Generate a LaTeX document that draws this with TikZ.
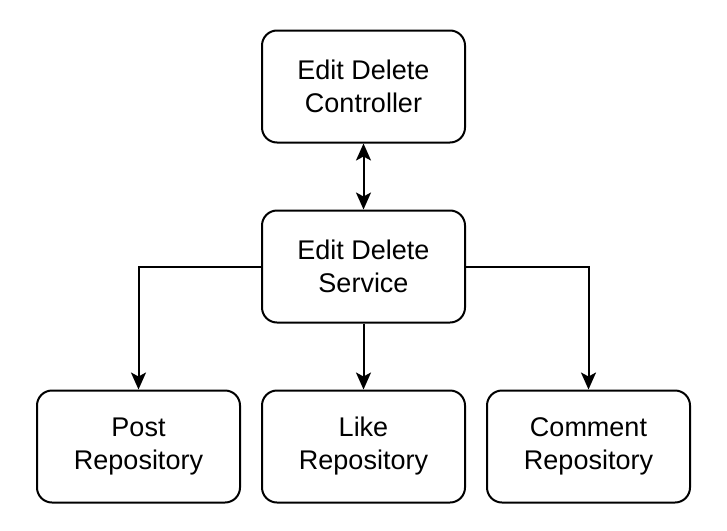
\documentclass[tikz,border=0pt]{standalone}
\usepackage{fontspec}
\setmainfont{Liberation Sans}
\usetikzlibrary{arrows.meta}
\tikzset{
  box/.style={draw=black, line width=2pt, rounded corners=15pt, minimum width=203pt, minimum height=112pt, align=center, inner sep=0pt, font=\fontsize{27}{33}\selectfont},
  conn/.style={draw=black, line width=2pt, -{Stealth[length=17pt,width=15pt,inset=4pt]}},
  bconn/.style={draw=black, line width=2pt, {Stealth[length=17pt,width=15pt,inset=4pt]}-{Stealth[length=17pt,width=15pt,inset=4pt]}}
}
\begin{document}
\begin{tikzpicture}[x=1pt,y=-1pt]
\useasboundingbox (0,0) rectangle (727,530);
\node[box] (ctrl) at (363.5,86.5) {Edit Delete\\Controller};
\node[box] (svc) at (363.5,266.5) {Edit Delete\\Service};
\node[box] (post) at (138.5,446.5) {Post\\Repository};
\node[box] (like) at (363.5,446.5) {Like\\Repository};
\node[box] (comm) at (588.5,446.5) {Comment\\Repository};
\draw[bconn] (ctrl.south) -- (svc.north);
\draw[conn] (svc.west) -| (post.north);
\draw[conn] (svc.south) -- (like.north);
\draw[conn] (svc.east) -| (comm.north);
\end{tikzpicture}
\end{document}
